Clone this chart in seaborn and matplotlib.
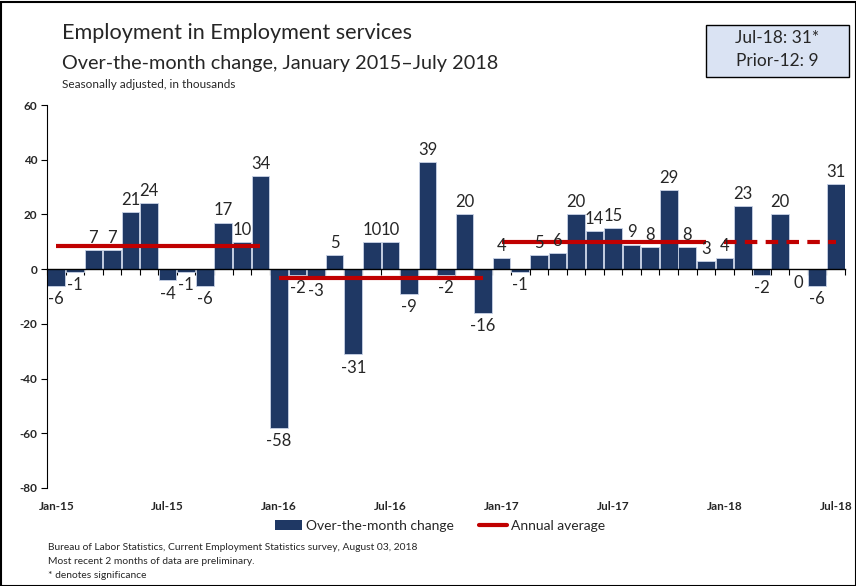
import numpy as np
import pandas as pd
import matplotlib
matplotlib.use("Agg")
import matplotlib.pyplot as plt
from matplotlib.patches import Patch, Rectangle
from matplotlib.lines import Line2D
import seaborn as sns

# Over-the-month change, Jan 2015 - Jul 2018 (thousands)
months = pd.date_range("2015-01-01", "2018-07-01", freq="MS").strftime("%b-%y").tolist()
changes = [-6, -1, 7, 7, 21, 24, -4, -1, -6, 17, 10, 34,
           -58, -2, -3, 5, -31, 10, 10, -9, 39, -2, 20, -16,
           4, -1, 5, 6, 20, 14, 15, 9, 8, 29, 8, 3,
           4, 23, -2, 20, 0, -6, 31]

# annual averages: (first month index, last month index, value, dashed)
avg_start = [0, 12, 24, 36]
avg_end = [11, 23, 35, 42]
avg_value = [8.5, -3.1, 10.0, 10.0]
avg_dashed = [False, False, False, True]

tick_labels = ["Jan-15", "Jul-15", "Jan-16", "Jul-16", "Jan-17", "Jul-17", "Jan-18", "Jul-18"]
yticks = [60, 40, 20, 0, -20, -40, -60, -80]

navy = "#1f3864"
red = "#c00000"

sns.set_style("white")
plt.rcParams["font.family"] = ["Lato", "DejaVu Sans"]

df = pd.DataFrame({"month": months, "change": changes, "pos": np.arange(len(months))})

fig = plt.figure(figsize=(8.56, 5.86), dpi=100)
ax = fig.add_axes([47 / 856, 1 - 488 / 586, 798 / 856, 383 / 586])

sns.barplot(data=df, x="pos", y="change", color=navy, width=0.95, saturation=1,
            edgecolor="#c9d3e6", linewidth=0.6, ax=ax, native_scale=True)

# data labels
for p, v in zip(df["pos"], df["change"]):
    if v > 0:
        ax.annotate(str(v), (p, v), xytext=(0, 3), textcoords="offset points",
                    ha="center", va="bottom", fontsize=12)
    else:
        ax.annotate(str(v), (p, min(v, 0)), xytext=(0, -4), textcoords="offset points",
                    ha="center", va="top", fontsize=12)

# annual average lines
for s, e, v, d in zip(avg_start, avg_end, avg_value, avg_dashed):
    ax.plot([s, e], [v, v], color=red, lw=3, ls=(0, (3, 2)) if d else "-", solid_capstyle="butt")

ax.set_xlim(-0.5, len(months) - 0.5)
ax.set_ylim(-80, 60)
ax.set_yticks(yticks)
ax.set_yticklabels([str(t) for t in yticks], fontsize=8.5, fontweight="bold")
ax.tick_params(axis="y", length=4, width=0.8, color="black", left=True, pad=3)
ax.set_xlabel("")
ax.set_ylabel("")

for side in ["top", "right"]:
    ax.spines[side].set_visible(False)
ax.spines["left"].set_color("black")
ax.spines["left"].set_linewidth(0.8)
ax.spines["bottom"].set_position(("data", 0))
ax.spines["bottom"].set_color("black")
ax.spines["bottom"].set_linewidth(1.0)
ax.set_xticks([])
ax.set_xticks(np.arange(-0.5, len(months), 1), minor=True)
ax.tick_params(axis="x", which="minor", bottom=True, length=4, width=0.8, color="black", direction="out")

sec = ax.secondary_xaxis(0)
sec.set_xticks([months.index(t) for t in tick_labels])
sec.set_xticklabels(tick_labels, fontsize=8.5, fontweight="bold")
sec.tick_params(length=0, pad=9)
sec.spines["bottom"].set_visible(False)

# titles
fig.text(62 / 856, 1 - 33 / 586, "Employment in Employment services", fontsize=15.6, va="center")
fig.text(62 / 856, 1 - 63 / 586, "Over-the-month change, January 2015\u2013July 2018", fontsize=14.3, va="center")
fig.text(62 / 856, 1 - 85 / 586, "Seasonally adjusted, in thousands", fontsize=8.5, va="center")

# summary box
fig.patches.append(Rectangle((706 / 856, 1 - 77 / 586), 143 / 856, 52 / 586, transform=fig.transFigure,
                             facecolor="#dae3f3", edgecolor="black", lw=1))
fig.text(777 / 856, 1 - 38 / 586, "Jul-18: 31*", fontsize=12.5, ha="center", va="center")
fig.text(777 / 856, 1 - 61 / 586, "Prior-12: 9", fontsize=12.5, ha="center", va="center")

# legend
handles = [Patch(facecolor=navy, edgecolor="none"), Line2D([0], [0], color=red, lw=3)]
fig.legend(handles, ["Over-the-month change", "Annual average"], loc="center",
           bbox_to_anchor=(440 / 856, 1 - 526 / 586), ncol=2, frameon=False, fontsize=10,
           handlelength=2.0, handletextpad=0.3, columnspacing=1.8)

# source notes
fig.text(48 / 856, 1 - 548 / 586, "Bureau of Labor Statistics, Current Employment Statistics survey, August 03, 2018", fontsize=7.4, va="center")
fig.text(48 / 856, 1 - 562 / 586, "Most recent 2 months of data are preliminary.", fontsize=7.4, va="center")
fig.text(48 / 856, 1 - 576 / 586, "* denotes significance", fontsize=7.4, va="center")

# outer frame
fig.patches.append(Rectangle((1 / 856, 0), 1 - 1 / 856, 1 - 2 / 586, transform=fig.transFigure,
                             facecolor="none", edgecolor="black", lw=1.5))

fig.savefig("out.png", dpi=100)
